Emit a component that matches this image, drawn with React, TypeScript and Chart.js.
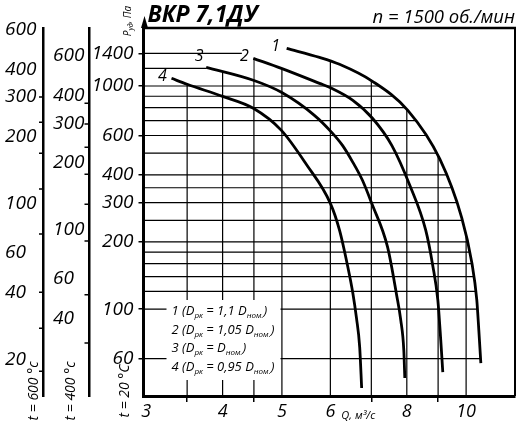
import React, { useEffect, useRef } from 'react';
import { Chart, registerables } from 'chart.js';

Chart.register(...registerables);

// ---- data: Q (m³/s) and P (Pa, at 20 °C) ----
const curve1Q = [5.09, 5.76, 6.21, 7.03, 8.03, 9.06, 9.84, 10.22, 10.41, 10.49, 10.57];
const curve1P = [1475, 1344, 1251, 1050, 778, 470, 256, 161, 110, 80.5, 57.3];
const curve2Q = [4.49, 4.99, 5.76, 6.03, 6.53, 7.03, 7.56, 8.09, 8.59, 8.82, 8.99, 9.09, 9.16];
const curve2P = [1331, 1200, 1028, 977, 863, 717, 542, 359, 226, 157, 110, 72.6, 52.2];
const curve3Q = [3.76, 4.49, 4.99, 5.65, 6.03, 6.28, 6.53, 6.77, 7.01, 7.44, 7.7, 7.82, 7.91, 7.94];
const curve3P = [1213, 1061, 937, 739, 620, 542, 455, 378, 298, 190, 115.5, 89.3, 65.5, 49.1];
const curve4Q = [3.3, 3.5, 4.0, 4.49, 4.99, 5.48, 6.0, 6.21, 6.4, 6.53, 6.62, 6.7, 6.75];
const curve4P = [1083, 1018, 899, 795, 633, 446, 298, 226, 157, 117.9, 91.1, 67.6, 44.3];
const curveNames = ['1', '2', '3', '4'];

const flowMin = 2.97;
const flowMax = 12.02;
const pressureMin = 40.8;
const pressureMax = 1820;
const densityRatio400 = 0.44;
const densityRatio600 = 0.336;

const flowTickValues = [3, 3.5, 4, 4.5, 5, 6, 7, 8, 9, 10];
const flowTickLabels = ['3', '', '4', '', '5', '6', '', '8', '', '10'];
const flowGridLines = [3.5, 4, 4.5, 5, 6, 7, 8, 9, 10];

const pressureLabels20 = [1400, 1000, 600, 400, 300, 200, 100, 60];
const pressureLabels400 = [600, 400, 300, 200, 100, 60, 40];
const pressureLabels600 = [600, 400, 300, 200, 100, 60, 40, 20];
const pressureTicks400 = [368, 297, 234, 177, 130, 89, 51, 31];
const pressureTicks600 = [300, 231, 168, 116, 73, 40, 27.6, 17.7];

const pressureGridLines = [1000, 900, 800, 700, 600, 500, 400, 350, 300, 250, 200, 180, 160, 140, 120, 100, 60];
const pressureGridStubs = [1400, 1200];
const pressureGridStubEndQ = [4.3, 3.76];

const legendRows: [string, boolean][][] = [
  [['1 (D', false], ['рк', true], [' = 1,1 D', false], ['ном.', true], [')', false]],
  [['2 (D', false], ['рк', true], [' = 1,05 D', false], ['ном.', true], [')', false]],
  [['3 (D', false], ['рк', true], [' = D', false], ['ном.', true], [')', false]],
  [['4 (D', false], ['рк', true], [' = 0,95 D', false], ['ном.', true], [')', false]],
];

const titleText = 'ВКР 7,1ДУ';
const speedText = 'n = 1500 об./мин';
const flowUnitText = 'Q, м³/с';
const tempTitles = ['t = 600 °c', 't = 400 °c', 't = 20 °C'];

const FONT = "'Open Sans', 'DejaVu Sans', sans-serif";

function tracePath(chart: any, index: number, ctx: CanvasRenderingContext2D) {
  const meta = chart.getDatasetMeta(index);
  const pts: any[] = meta.data;
  const line: any = meta.dataset;
  let done = false;
  if (line && typeof line.path === 'function') {
    try {
      if (typeof line.updateControlPoints === 'function') line.updateControlPoints(chart.chartArea, meta.indexAxis);
      line.path(ctx);
      done = true;
    } catch (e) {
      done = false;
    }
  }
  if (!done) {
    ctx.moveTo(pts[0].x, pts[0].y);
    for (let k = 1; k < pts.length; k++) ctx.lineTo(pts[k].x, pts[k].y);
  }
  return { first: pts[0], last: pts[pts.length - 1] };
}

function drawParts(ctx: CanvasRenderingContext2D, parts: [string, boolean][], x: number, y: number, size: number, subSize: number, subShift: number) {
  let cx = x;
  for (const [t, sub] of parts) {
    ctx.font = `italic ${sub ? subSize : size}px ${FONT}`;
    ctx.fillText(t, cx, sub ? y + subShift : y);
    cx += ctx.measureText(t).width;
  }
  return cx - x;
}

function measureParts(ctx: CanvasRenderingContext2D, parts: [string, boolean][], size: number, subSize: number) {
  let w = 0;
  for (const [t, sub] of parts) {
    ctx.font = `italic ${sub ? subSize : size}px ${FONT}`;
    w += ctx.measureText(t).width;
  }
  return w;
}

const decorPlugin = {
  id: 'fanDecor',
  beforeDatasetsDraw(chart: any) {
    const ctx: CanvasRenderingContext2D = chart.ctx;
    const a = chart.chartArea;
    const xs = chart.scales.x;
    const ys = chart.scales.y;
    ctx.save();
    ctx.strokeStyle = '#000';
    ctx.lineWidth = 1.2;

    // horizontal grid lines, bounded by the outer curve
    ctx.save();
    ctx.beginPath();
    const p1 = tracePath(chart, 0, ctx);
    ctx.lineTo(p1.last.x, a.bottom);
    ctx.lineTo(a.left, a.bottom);
    ctx.lineTo(a.left, p1.first.y);
    ctx.closePath();
    ctx.clip();
    ctx.beginPath();
    for (const p of pressureGridLines) {
      const y = ys.getPixelForValue(p);
      ctx.moveTo(a.left, y);
      ctx.lineTo(a.right, y);
    }
    ctx.stroke();
    ctx.restore();

    ctx.beginPath();
    pressureGridStubs.forEach((p, i) => {
      const y = ys.getPixelForValue(p);
      ctx.moveTo(a.left, y);
      ctx.lineTo(xs.getPixelForValue(pressureGridStubEndQ[i]), y);
    });
    ctx.stroke();

    // vertical grid lines, under the envelope of all curves
    ctx.save();
    ctx.beginPath();
    for (let i = 0; i < chart.data.datasets.length; i++) {
      const p = tracePath(chart, i, ctx);
      ctx.lineTo(p.last.x, a.bottom);
      ctx.lineTo(p.first.x, a.bottom);
      ctx.closePath();
    }
    ctx.clip();
    ctx.beginPath();
    for (const q of flowGridLines) {
      const x = xs.getPixelForValue(q);
      ctx.moveTo(x, a.top);
      ctx.lineTo(x, a.bottom);
    }
    ctx.stroke();
    ctx.restore();

    // legend background
    ctx.fillStyle = '#fff';
    ctx.fillRect(a.left + 23, a.top + 272, 114, 80);
    ctx.restore();
  },
  afterDatasetsDraw(chart: any) {
    const ctx: CanvasRenderingContext2D = chart.ctx;
    const a = chart.chartArea;
    const xs = chart.scales.x;
    const s400 = chart.scales.y400;
    const s600 = chart.scales.y600;
    ctx.save();
    ctx.strokeStyle = '#000';
    ctx.fillStyle = '#000';

    // frame
    ctx.lineWidth = 2.5;
    ctx.beginPath();
    ctx.moveTo(a.left, a.top);
    ctx.lineTo(a.right + 1, a.top);
    ctx.stroke();
    ctx.lineWidth = 2;
    ctx.beginPath();
    ctx.moveTo(a.right, a.top);
    ctx.lineTo(a.right, a.bottom);
    ctx.stroke();

    // arrow on the pressure axis
    ctx.beginPath();
    ctx.moveTo(a.left + 1, a.top - 12);
    ctx.lineTo(a.left - 2.5, a.top);
    ctx.lineTo(a.left + 4.5, a.top);
    ctx.closePath();
    ctx.fill();

    // small ticks on the temperature axes
    ctx.lineWidth = 1.5;
    ctx.beginPath();
    for (const v of pressureTicks600) {
      const y = s600.getPixelForValue(v);
      ctx.moveTo(s600.right - 4.5, y);
      ctx.lineTo(s600.right, y);
    }
    for (const v of pressureTicks400) {
      const y = s400.getPixelForValue(v);
      ctx.moveTo(s400.right - 4.5, y);
      ctx.lineTo(s400.right, y);
    }
    ctx.stroke();

    // labels of the temperature axes (left aligned)
    ctx.font = `italic 19px ${FONT}`;
    ctx.textAlign = 'left';
    ctx.textBaseline = 'middle';
    for (const v of pressureLabels600) {
      ctx.fillText(String(v), s600.left + 5, s600.getPixelForValue(v));
    }
    for (const v of pressureLabels400) {
      ctx.fillText(String(v), s400.left + 9.5, s400.getPixelForValue(v));
    }

    // curve numbers
    const offsets = [[-11, -2], [-9, -2], [-7, -11], [-9, -2]];
    ctx.font = `italic 16px ${FONT}`;
    ctx.textAlign = 'center';
    ctx.textBaseline = 'middle';
    curveNames.forEach((name, i) => {
      const pt = chart.getDatasetMeta(i).data[0];
      ctx.fillText(name, pt.x + offsets[i][0], pt.y + offsets[i][1]);
    });

    // legend text
    ctx.textAlign = 'left';
    ctx.textBaseline = 'alphabetic';
    const baselines = [287, 306, 324, 343];
    legendRows.forEach((row, i) => {
      drawParts(ctx, row, a.left + 28, a.top + baselines[i], 13, 8, 3);
    });

    // titles
    ctx.font = `italic bold 23px ${FONT}`;
    ctx.fillText(titleText, a.left + 4, 22);
    ctx.font = `italic 18.5px ${FONT}`;
    ctx.textAlign = 'right';
    ctx.fillText(speedText, a.right, 23);

    // flow unit
    ctx.textAlign = 'left';
    ctx.font = `italic 11px ${FONT}`;
    ctx.fillText(flowUnitText, xs.getPixelForValue(6) + 11, 419);

    // rotated temperature titles
    const tempX = [34, 71, 125];
    tempTitles.forEach((t, i) => {
      ctx.save();
      ctx.translate(tempX[i], 391);
      ctx.rotate(-Math.PI / 2);
      ctx.font = `italic 14px ${FONT}`;
      ctx.textAlign = 'center';
      ctx.textBaseline = 'middle';
      ctx.fillText(t, 0, 0);
      ctx.restore();
    });

    // pressure axis title
    const pParts: [string, boolean][] = [['Р', false], ['уд', true], [', Па', false]];
    ctx.save();
    ctx.translate(128, 21);
    ctx.rotate(-Math.PI / 2);
    ctx.textAlign = 'left';
    ctx.textBaseline = 'middle';
    const w = measureParts(ctx, pParts, 10, 7);
    drawParts(ctx, pParts, -w / 2, 0, 10, 7, 3);
    ctx.restore();

    ctx.restore();
  },
};

function makeDataset(qs: number[], ps: number[]) {
  return {
    data: qs.map((q, i) => ({ x: q, y: ps[i] })),
    borderColor: '#000',
    borderWidth: 2.8,
    pointRadius: 0,
    fill: false,
    cubicInterpolationMode: 'monotone' as const,
    xAxisID: 'x',
    yAxisID: 'y',
  };
}

const tickFont = { family: FONT, size: 19, style: 'italic' as const };

export default function App() {
  const ref = useRef<HTMLCanvasElement | null>(null);
  useEffect(() => {
    if (!ref.current) return;
    const chart = new Chart(ref.current, {
      type: 'line',
      data: {
        datasets: [
          makeDataset(curve1Q, curve1P),
          makeDataset(curve2Q, curve2P),
          makeDataset(curve3Q, curve3P),
          makeDataset(curve4Q, curve4P),
        ],
      },
      options: {
        responsive: false,
        animation: false,
        events: [],
        layout: { padding: { top: 28, right: 6, left: 0, bottom: 0 } },
        plugins: { legend: { display: false }, tooltip: { enabled: false }, title: { display: false } },
        scales: {
          x: {
            type: 'logarithmic',
            position: 'bottom',
            min: flowMin,
            max: flowMax,
            afterBuildTicks: (s: any) => {
              s.ticks = flowTickValues.map((v) => ({ value: v }));
            },
            afterFit: (s: any) => {
              s.height = 29;
            },
            grid: {
              display: true,
              drawOnChartArea: false,
              drawTicks: true,
              tickLength: 6,
              lineWidth: 1.5,
              color: '#000',
              tickColor: (c: any) => {
                const v = c.tick ? c.tick.value : 0;
                const idx = flowTickValues.indexOf(v);
                return idx >= 0 && flowTickLabels[idx] === '' ? '#000' : 'rgba(0,0,0,0)';
              },
            },
            border: { display: true, color: '#000', width: 3 },
            ticks: {
              autoSkip: false,
              maxRotation: 0,
              minRotation: 0,
              padding: -1,
              color: '#000',
              font: { family: FONT, size: 18, style: 'italic' },
              callback: (v: any) => {
                const idx = flowTickValues.indexOf(Number(v));
                return idx >= 0 ? flowTickLabels[idx] : '';
              },
            },
          },
          y: {
            type: 'logarithmic',
            position: 'left',
            weight: 0,
            min: pressureMin,
            max: pressureMax,
            afterBuildTicks: (s: any) => {
              s.ticks = pressureLabels20.map((v) => ({ value: v }));
            },
            afterFit: (s: any) => {
              s.width = 54.5;
            },
            grid: { display: true, drawOnChartArea: false, drawTicks: true, tickLength: 5, lineWidth: 1.5, color: '#000' },
            border: { display: true, color: '#000', width: 3 },
            ticks: { padding: 5, color: '#000', font: tickFont, autoSkip: false, callback: (v: any) => String(v) },
          },
          y400: {
            type: 'logarithmic',
            position: 'left',
            weight: 1,
            min: pressureMin * densityRatio400,
            max: pressureMax * densityRatio400,
            afterBuildTicks: (s: any) => {
              s.ticks = pressureLabels400.map((v) => ({ value: v }));
            },
            afterFit: (s: any) => {
              s.width = 45.5;
            },
            grid: { display: false, drawTicks: false },
            border: { display: true, color: '#000', width: 2.5 },
            ticks: { display: false },
          },
          y600: {
            type: 'logarithmic',
            position: 'left',
            weight: 2,
            min: pressureMin * densityRatio600,
            max: pressureMax * densityRatio600,
            afterBuildTicks: (s: any) => {
              s.ticks = pressureLabels600.map((v) => ({ value: v }));
            },
            afterFit: (s: any) => {
              s.width = 43.5;
            },
            grid: { display: false, drawTicks: false },
            border: { display: true, color: '#000', width: 2.5 },
            ticks: { display: false },
          },
        },
      } as any,
      plugins: [decorPlugin as any],
    });
    return () => chart.destroy();
  }, []);
  return (
    <div style={{ position: 'absolute', left: 0, top: 0, width: 521, height: 425, background: '#fff' }}>
      <canvas ref={ref} width={521} height={425} style={{ display: 'block' }} />
    </div>
  );
}
